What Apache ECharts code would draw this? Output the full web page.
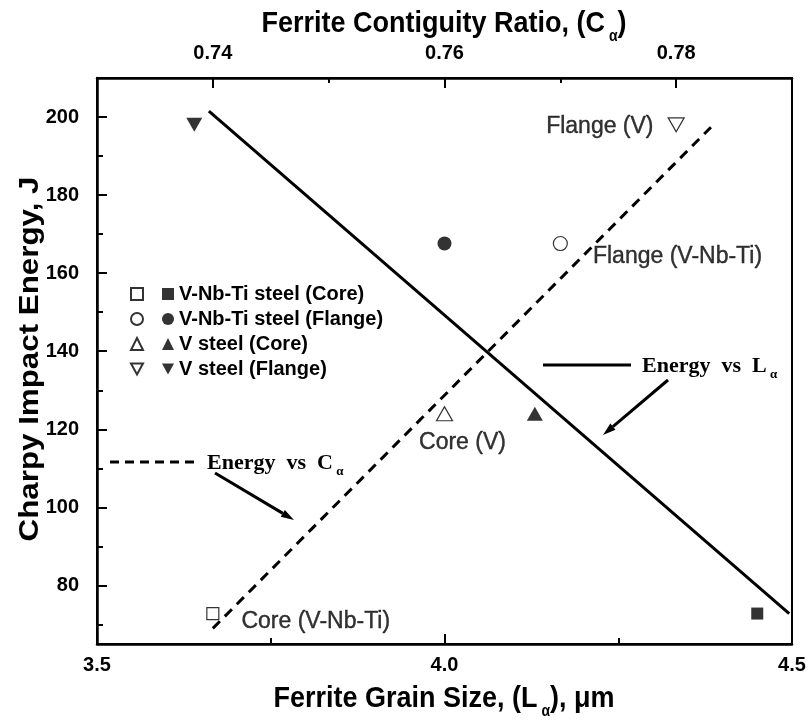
<!DOCTYPE html>
<html><head><meta charset="utf-8">
<script src="https://cdn.jsdelivr.net/npm/echarts@6/dist/echarts.min.js"></script>
<style>html,body{margin:0;padding:0;background:#fff}#c{width:809px;height:723px}</style>
</head><body><div id="c"></div>
<script>
// ---- data ----
const seriesNames = ['V-Nb-Ti steel (Core)', 'V-Nb-Ti steel (Flange)', 'V steel (Core)', 'V steel (Flange)'];
const contiguity = [0.740, 0.770, 0.760, 0.780];   // C_alpha, open symbols (top axis)
const grainSize  = [4.45, 4.00, 4.13, 3.64];       // L_alpha, filled symbols (bottom axis)
const energy     = [72.8, 167.6, 124, 198];        // Charpy impact energy, J
const pointLabels = ['Core (V-Nb-Ti)', 'Flange (V-Nb-Ti)', 'Core (V)', 'Flange (V)'];
const fitLx = [3.661, 4.496];  const fitLy = [201.5, 72.8];   // Energy vs L_alpha
const fitCx = [0.740, 0.783];  const fitCy = [69, 197.4];     // Energy vs C_alpha
const yLabels = [80, 100, 120, 140, 160, 180, 200];
const yMinor = [70, 90, 110, 130, 150, 170, 190];
const topLabels = [0.74, 0.76, 0.78];
const topMinor = [0.75, 0.77];

// ---- styling ----
const SANS = '"Liberation Sans", Arial, sans-serif';
const SERIF = '"Liberation Serif", "Times New Roman", serif';
const DOWN = 'path://M0,0L10,0L5,9Z';
const symbols = ['rect', 'circle', 'triangle', DOWN];
const sizes = [12, 14, [16, 14], [16, 14]];
const labelCfg = [
  { position: 'right', distance: 22, offset: [0, 8] },
  { position: 'right', distance: 25, offset: [0, 13] },
  { position: 'bottom', distance: 10, offset: [18, 0] },
  { position: 'left', distance: 14, offset: [0, 2] }
];

const chart = echarts.init(document.getElementById('c'), null, { renderer: 'canvas' });
const series = [];
seriesNames.forEach((n, i) => {
  series.push({
    name: 'open ' + n, type: 'scatter', xAxisIndex: 1, yAxisIndex: 0,
    symbol: symbols[i], symbolSize: sizes[i],
    itemStyle: { color: '#fff', borderColor: '#000', borderWidth: 1.2 },
    label: Object.assign({ show: true, formatter: pointLabels[i], color: '#000',
      textBorderColor: '#000', textBorderWidth: 0.4,
      fontFamily: SANS, fontSize: 23 }, labelCfg[i]),
    emphasis: { disabled: true },
    data: [[contiguity[i], energy[i]]], z: 5
  });
});
seriesNames.forEach((n, i) => {
  series.push({
    name: n, type: 'scatter', xAxisIndex: 0, yAxisIndex: 0,
    symbol: symbols[i], symbolSize: sizes[i],
    itemStyle: { color: '#000' },
    data: [[grainSize[i], energy[i]]], z: 5
  });
});
series.push({
  name: 'fitL', type: 'line', xAxisIndex: 0, yAxisIndex: 0, symbol: 'none',
  lineStyle: { color: '#000', width: 3 }, data: fitLx.map((x, i) => [x, fitLy[i]])
});
series.push({
  name: 'fitC', type: 'line', xAxisIndex: 1, yAxisIndex: 0, symbol: 'none',
  lineStyle: { color: '#000', width: 3, type: [10, 7] }, data: fitCx.map((x, i) => [x, fitCy[i]])
});

const tickLabel = { color: '#000', fontFamily: SANS, fontWeight: 'bold', fontSize: 20 };
const titleRich = {
  m: { fontFamily: SANS, fontWeight: 'bold', fontSize: 27, fill: '#000', lineHeight: 36, verticalAlign: 'middle' },
  s: { fontFamily: SANS, fontWeight: 'bold', fontSize: 14, fill: '#000', lineHeight: 36, verticalAlign: 'bottom' }
};

function arrow(x1, y1, x2, y2) {
  const dx = x2 - x1, dy = y2 - y1, L = Math.hypot(dx, dy);
  const ux = dx / L, uy = dy / L, hl = 13, hw = 4;
  const bx = x2 - ux * hl, by = y2 - uy * hl;
  return [
    { type: 'line', shape: { x1, y1, x2: bx, y2: by }, style: { stroke: '#000', lineWidth: 3 } },
    { type: 'polygon', shape: { points: [[x2, y2], [bx - uy * hw, by + ux * hw], [bx + uy * hw, by - ux * hw]] },
      style: { fill: '#000' } }
  ];
}
const annoRich = {
  m: { fontFamily: SERIF, fontWeight: 'bold', fontSize: 22, fill: '#000', lineHeight: 30, verticalAlign: 'middle' },
  s: { fontFamily: SERIF, fontWeight: 'bold', fontSize: 13, fill: '#000', lineHeight: 30, verticalAlign: 'bottom' }
};

chart.setOption({
  animation: false,
  backgroundColor: '#fff',
  grid: { left: 97, right: 17, top: 78, bottom: 79, show: true, borderColor: '#000', borderWidth: 2 },
  legend: [
    { data: seriesNames.map(n => 'open ' + n), orient: 'vertical', left: 130, top: 284, padding: 0,
      itemWidth: 12, itemHeight: 12, itemGap: 5, formatter: () => ' ', selectedMode: false,
      textStyle: { fontSize: 20, fontFamily: SANS, fontWeight: 'bold' } },
    { data: seriesNames, orient: 'vertical', left: 162, top: 284, padding: 0,
      itemWidth: 12, itemHeight: 12, itemGap: 5, itemTextGap: 24, selectedMode: false,
      textStyle: { fontSize: 20, fontFamily: SANS, fontWeight: 'bold', color: '#000' } }
  ],
  xAxis: [
    { type: 'value', position: 'bottom', min: 3.5, max: 4.5, interval: 0.5,
      axisLine: { lineStyle: { color: '#000', width: 2.5 } },
      axisTick: { inside: true, length: 10, lineStyle: { color: '#000', width: 2 } },
      minorTick: { show: true, splitNumber: 2, length: 6, lineStyle: { color: '#000', width: 2 } },
      splitLine: { show: false },
      axisLabel: Object.assign({ margin: 11, formatter: v => v.toFixed(1) }, tickLabel) },
    { type: 'value', position: 'top', min: 0.73, max: 0.79,
      axisLine: { lineStyle: { color: '#000', width: 2.5 } },
      axisTick: { inside: true, length: 10, customValues: topLabels, lineStyle: { color: '#000', width: 2 } },
      splitLine: { show: false },
      axisLabel: Object.assign({ margin: 15, customValues: topLabels, formatter: v => v.toFixed(2) }, tickLabel) },
    { type: 'value', position: 'top', min: 0.73, max: 0.79,
      axisLine: { show: false },
      axisTick: { inside: true, length: 5, customValues: topMinor, lineStyle: { color: '#000', width: 2 } },
      splitLine: { show: false }, axisLabel: { show: false } }
  ],
  yAxis: [
    { type: 'value', position: 'left', min: 65, max: 210,
      axisLine: { lineStyle: { color: '#000', width: 2.5 } },
      axisTick: { inside: true, length: 10, customValues: yLabels, lineStyle: { color: '#000', width: 2 } },
      splitLine: { show: false },
      axisLabel: Object.assign({ margin: 18, customValues: yLabels }, tickLabel) },
    { type: 'value', position: 'left', min: 65, max: 210,
      axisLine: { show: false },
      axisTick: { inside: true, length: 6, customValues: yMinor, lineStyle: { color: '#000', width: 2 } },
      splitLine: { show: false }, axisLabel: { show: false } }
  ],
  series: series,
  graphic: [
    { type: 'text', x: 444, y: 24, scaleY: 1.12,
      style: { text: '{m|Ferrite Contiguity Ratio, (C}{s| α}{m|)}', rich: titleRich, align: 'center', verticalAlign: 'middle' } },
    { type: 'text', x: 444, y: 699, scaleY: 1.12,
      style: { text: '{m|Ferrite Grain Size, (L}{s| α}{m|), μm}', rich: titleRich, align: 'center', verticalAlign: 'middle' } },
    { type: 'text', x: 31, y: 359, rotation: Math.PI / 2, scaleX: 1.16,
      style: { text: 'Charpy Impact Energy, J', fill: '#000', fontFamily: SANS, fontWeight: 'bold', fontSize: 27,
        align: 'center', verticalAlign: 'middle' } },
    { type: 'line', shape: { x1: 543, y1: 365, x2: 631, y2: 365 }, style: { stroke: '#000', lineWidth: 3 } },
    { type: 'text', x: 642, y: 366, style: { text: '{m|Energy  vs  L}{s| α}', rich: annoRich, verticalAlign: 'middle' } },
    ...arrow(668, 380, 603, 435),
    { type: 'line', shape: { x1: 110, y1: 462, x2: 198, y2: 462 }, style: { stroke: '#000', lineWidth: 3, lineDash: [9, 6] } },
    { type: 'text', x: 207, y: 463, style: { text: '{m|Energy  vs  C}{s| α}', rich: annoRich, verticalAlign: 'middle' } },
    ...arrow(215, 473, 294, 520)
  ]
});
</script></body></html>
